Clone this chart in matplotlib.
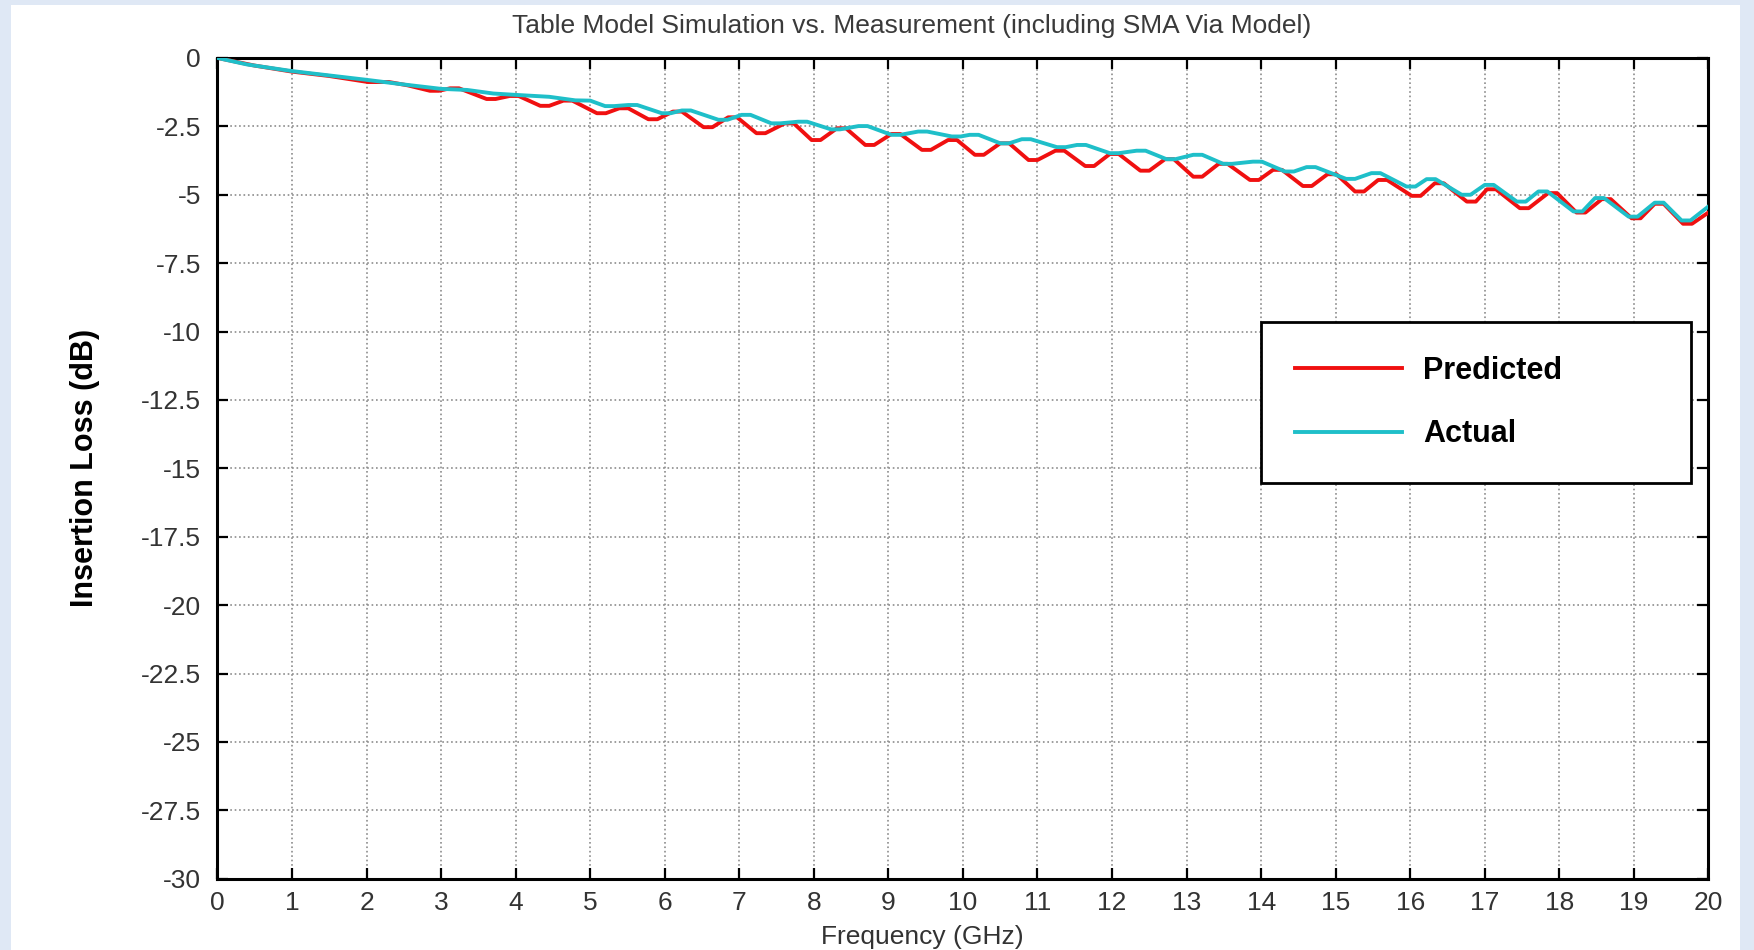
import matplotlib
matplotlib.use("Agg")
import matplotlib.pyplot as plt
from matplotlib.patches import Rectangle
from matplotlib.ticker import FuncFormatter, MultipleLocator

plt.rcParams['axes.unicode_minus'] = False
plt.rcParams['font.family'] = ['Liberation Sans', 'DejaVu Sans']

# Insertion loss (GHz, dB); ripple tops/bottoms as short pairs
freq_pred = [0.0, 0.5, 1.0, 1.5, 2.02, 2.3, 2.55,
             2.85, 2.97, 3.12, 3.24, 3.61, 3.73, 3.92, 4.04, 4.33, 4.45, 4.64, 4.76,
             5.09, 5.21, 5.39, 5.51, 5.78, 5.90, 6.11, 6.23, 6.52, 6.64, 6.85, 6.97,
             7.23, 7.35, 7.61, 7.73, 7.97, 8.09, 8.31, 8.43, 8.69, 8.81, 9.04, 9.16,
             9.45, 9.57, 9.80, 9.92, 10.16, 10.28, 10.50, 10.62, 10.88, 11.00, 11.24, 11.36,
             11.64, 11.76, 11.97, 12.09, 12.38, 12.50, 12.71, 12.83, 13.09, 13.21, 13.43, 13.55,
             13.85, 13.97, 14.16, 14.28, 14.56, 14.68, 14.89, 15.01, 15.26, 15.38, 15.57, 15.69,
             16.02, 16.14, 16.33, 16.45, 16.76, 16.88, 17.03, 17.15, 17.47, 17.59, 17.85, 17.97,
             18.23, 18.35, 18.57, 18.69, 18.97, 19.09, 19.28, 19.40, 19.66, 19.78, 20.0]
loss_pred = [0.0, -0.28, -0.50, -0.66, -0.88, -0.88, -1.0,
             -1.2, -1.2, -1.11, -1.11, -1.5, -1.5, -1.39, -1.39, -1.75, -1.75, -1.56, -1.56,
             -2.02, -2.02, -1.84, -1.84, -2.24, -2.24, -1.96, -1.96, -2.53, -2.53, -2.17, -2.17,
             -2.75, -2.75, -2.39, -2.39, -3.0, -3.0, -2.57, -2.57, -3.18, -3.18, -2.78, -2.78,
             -3.36, -3.36, -3.0, -3.0, -3.54, -3.54, -3.12, -3.12, -3.73, -3.73, -3.39, -3.39,
             -3.95, -3.95, -3.51, -3.51, -4.12, -4.12, -3.70, -3.70, -4.34, -4.34, -3.87, -3.87,
             -4.46, -4.46, -4.09, -4.09, -4.68, -4.68, -4.25, -4.25, -4.88, -4.88, -4.46, -4.46,
             -5.04, -5.04, -4.58, -4.58, -5.25, -5.25, -4.80, -4.80, -5.49, -5.49, -4.94, -4.94,
             -5.65, -5.65, -5.16, -5.16, -5.86, -5.86, -5.33, -5.33, -6.06, -6.06, -5.65]

freq_meas = [0.0, 0.4, 1.0, 1.5, 2.0, 2.5, 3.0, 3.35, 3.7, 4.0, 4.45, 4.8, 5.0,
             5.20, 5.32, 5.51, 5.63, 5.96, 6.08, 6.23, 6.35, 6.72, 6.84, 7.03, 7.15,
             7.43, 7.55, 7.79, 7.91, 8.23, 8.35, 8.60, 8.72, 9.04, 9.16, 9.40, 9.52,
             9.85, 9.97, 10.09, 10.21, 10.50, 10.62, 10.79, 10.91, 11.26, 11.38, 11.53, 11.65,
             11.97, 12.09, 12.33, 12.45, 12.73, 12.85, 13.09, 13.21, 13.49, 13.61, 13.89, 14.01,
             14.32, 14.44, 14.61, 14.73, 15.14, 15.26, 15.48, 15.60, 15.95, 16.07, 16.22, 16.34,
             16.69, 16.81, 17.00, 17.12, 17.43, 17.55, 17.72, 17.84, 18.19, 18.31, 18.48, 18.60,
             18.93, 19.05, 19.28, 19.40, 19.64, 19.76, 20.0]
loss_meas = [0.0, -0.24, -0.48, -0.64, -0.80, -0.97, -1.13, -1.17, -1.30, -1.35, -1.42, -1.55, -1.56,
             -1.76, -1.76, -1.72, -1.72, -2.02, -2.02, -1.92, -1.92, -2.26, -2.26, -2.08, -2.08,
             -2.39, -2.39, -2.33, -2.33, -2.61, -2.61, -2.49, -2.49, -2.81, -2.81, -2.69, -2.69,
             -2.87, -2.87, -2.81, -2.81, -3.12, -3.12, -2.97, -2.97, -3.26, -3.26, -3.18, -3.18,
             -3.48, -3.48, -3.39, -3.39, -3.70, -3.70, -3.54, -3.54, -3.87, -3.87, -3.79, -3.79,
             -4.15, -4.15, -3.99, -3.99, -4.42, -4.42, -4.21, -4.21, -4.70, -4.70, -4.43, -4.43,
             -5.0, -5.0, -4.64, -4.64, -5.25, -5.25, -4.88, -4.88, -5.61, -5.61, -5.12, -5.12,
             -5.80, -5.80, -5.29, -5.29, -5.94, -5.94, -5.43]

x_ticks = list(range(0, 21))

fig = plt.figure(figsize=(17.54, 9.5), dpi=100, facecolor='#dfe8f5')
# white page inside the light blue border
fig.patches.append(Rectangle((0.006, 0.0), 0.986, 0.995, transform=fig.transFigure,
                             facecolor='white', edgecolor='none', zorder=-5))
ax = fig.add_axes([0.124, 0.075, 0.850, 0.864])
ax.set_zorder(2)
ax.set_facecolor('white')

ax.plot(freq_pred, loss_pred, color='#f01010', lw=2.8, label='Predicted',
        solid_joinstyle='round', zorder=3)
ax.plot(freq_meas, loss_meas, color='#1fbfc9', lw=2.8, label='Actual',
        solid_joinstyle='round', zorder=4)

ax.set_xlim(0, 20)
ax.set_ylim(-30, 0)
ax.set_xticks(x_ticks)
ax.yaxis.set_major_locator(MultipleLocator(2.5))
ax.yaxis.set_major_formatter(FuncFormatter(lambda v, p: '%g' % v))
ax.grid(True, color='#8c8c8c', linestyle=':', linewidth=1.2)

for s in ax.spines.values():
    s.set_linewidth(2.2)
    s.set_color('black')
ax.tick_params(direction='in', length=8, width=1.6, top=True, right=True,
               labelsize=19, labelcolor='#333333')
ax.tick_params(axis='x', pad=9)
ax.tick_params(axis='y', pad=12)

ax.set_ylabel('Insertion Loss (dB)', fontsize=22, fontweight='bold')
ax.yaxis.set_label_coords(-0.079, 0.5)
ax.set_xlabel('Frequency (GHz)', fontsize=19, color='#333333')
ax.xaxis.set_label_coords(0.473, -0.056)

fig.text(0.52, 0.973, 'Table Model Simulation vs. Measurement (including SMA Via Model)',
         ha='center', va='center', fontsize=19, color='#3a3a3a')

leg = ax.legend(loc='upper left', bbox_to_anchor=(0.700, 0.485, 0.288, 0.193),
                mode='expand', fancybox=False, framealpha=1, edgecolor='black',
                prop={'weight': 'bold', 'size': 22},
                handlelength=3.5, handletextpad=0.7, labelspacing=1.1,
                borderpad=1.1, borderaxespad=0)
leg.get_frame().set_linewidth(2)

plt.savefig('out.png', dpi=100, facecolor=fig.get_facecolor())
